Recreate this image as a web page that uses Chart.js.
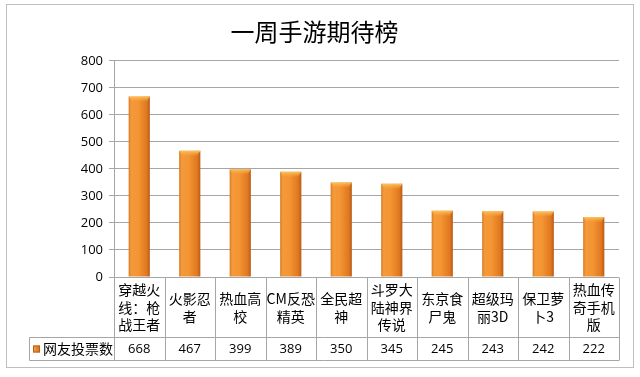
<!DOCTYPE html>
<html>
  <head>
    <meta charset="utf-8">
    <title>一周手游期待榜</title>
    <script src="https://cdn.jsdelivr.net/npm/chart.js@4/dist/chart.umd.min.js"></script>
    <style>
      html, body { margin: 0; padding: 0; background: #fff; }
      #wrap { width: 640px; height: 377px; }
    </style>
  </head>
  <body>
    <div id="wrap"><canvas id="canvas"></canvas></div>
    <script>
      // categories, already split the way the table cells wrap them
      const categories = [
        ['穿越火', '线：枪', '战王者'],
        ['火影忍', '者'],
        ['热血高', '校'],
        ['CM反恐', '精英'],
        ['全民超', '神'],
        ['斗罗大', '陆神界', '传说'],
        ['东京食', '尸鬼'],
        ['超级玛', '丽3D'],
        ['保卫萝', '卜3'],
        ['热血传', '奇手机', '版'],
      ];
      const votes = [668, 467, 399, 389, 350, 345, 245, 243, 242, 222];
      const seriesName = '网友投票数';
      const yTicks = [0, 100, 200, 300, 400, 500, 600, 700, 800];

      const cjk = '"Noto Sans CJK SC", sans-serif';
      const num = '"Open Sans", "Liberation Sans", sans-serif';
      const lineColor = '#a6a6a6';

      function barFill(c) {
        const chart = c.chart;
        if (!chart.chartArea) return '#f29433';
        const xs = chart.scales.x;
        const cx = xs.getPixelForValue(c.dataIndex);
        const w = (xs.width / categories.length) * 0.42;
        const g = chart.ctx.createLinearGradient(cx - w / 2, 0, cx + w / 2, 0);
        g.addColorStop(0, '#d77a26');
        g.addColorStop(0.12, '#f49a3a');
        g.addColorStop(0.45, '#f39533');
        g.addColorStop(0.85, '#e0781f');
        g.addColorStop(1, '#b85c18');
        return g;
      }

      // bar caps, data table and outer frame
      const tablePlugin = {
        id: 'dataTable',
        afterDatasetsDraw(chart) {
          const ctx = chart.ctx;
          const meta = chart.getDatasetMeta(0);
          ctx.save();
          meta.data.forEach((bar) => {
            const w = bar.width;
            const g = ctx.createLinearGradient(0, bar.y, 0, bar.y + 6);
            g.addColorStop(0, '#fcc35e');
            g.addColorStop(1, 'rgba(247,160,60,0)');
            ctx.fillStyle = g;
            ctx.beginPath();
            ctx.moveTo(bar.x - w / 2, bar.y);
            ctx.lineTo(bar.x + w / 2, bar.y);
            ctx.lineTo(bar.x + w / 2 - 3, bar.y + 5);
            ctx.lineTo(bar.x - w / 2 + 3, bar.y + 5);
            ctx.closePath();
            ctx.fill();
          });
          ctx.restore();
        },
        afterDraw(chart) {
          const ctx = chart.ctx;
          const xs = chart.scales.x;
          const area = chart.chartArea;
          const colW = xs.width / categories.length;
          const top = Math.round(area.bottom) + 0.5;
          const mid = top + 60;
          const bot = mid + 23;
          const left = area.left;
          const legendLeft = 29.5;

          ctx.save();
          ctx.strokeStyle = lineColor;
          ctx.lineWidth = 1;
          ctx.beginPath();
          ctx.moveTo(left, top); ctx.lineTo(area.right, top);
          ctx.moveTo(legendLeft, mid); ctx.lineTo(area.right, mid);
          ctx.moveTo(legendLeft, bot); ctx.lineTo(area.right, bot);
          ctx.moveTo(legendLeft, mid); ctx.lineTo(legendLeft, bot);
          for (let i = 0; i <= categories.length; i++) {
            const x = Math.round(left + i * colW) + 0.5;
            ctx.moveTo(x, top); ctx.lineTo(x, bot);
          }
          ctx.stroke();

          ctx.fillStyle = '#000';
          ctx.textAlign = 'center';
          ctx.textBaseline = 'middle';
          categories.forEach((lines, i) => {
            const cx = xs.getPixelForValue(i);
            const lh = 17.5;
            const y0 = (top + mid) / 2 - ((lines.length - 1) * lh) / 2;
            ctx.font = '14px ' + cjk;
            lines.forEach((t, k) => ctx.fillText(t, cx, y0 + k * lh));
            ctx.font = '13px ' + num;
            ctx.fillText(String(votes[i]), cx, (mid + bot) / 2);
          });

          // legend key in the table
          const ky = (mid + bot) / 2;
          const kg = ctx.createLinearGradient(33, 0, 40, 0);
          kg.addColorStop(0, '#f7a642');
          kg.addColorStop(1, '#d36f1e');
          ctx.fillStyle = kg;
          ctx.fillRect(33, ky - 3.5, 7, 7);
          ctx.strokeStyle = '#b8601a';
          ctx.strokeRect(33.5, ky - 3, 6, 6);
          ctx.fillStyle = '#000';
          ctx.textAlign = 'left';
          ctx.font = '14px ' + cjk;
          ctx.fillText(seriesName, 43, ky);

          // outer frame
          ctx.strokeStyle = '#bfbfbf';
          ctx.strokeRect(6.5, 4.5, 627, 363);
          ctx.restore();
        },
      };

      new Chart(document.getElementById('canvas'), {
        type: 'bar',
        data: {
          labels: categories.map((l) => l.join('')),
          datasets: [{
            label: seriesName,
            data: votes,
            backgroundColor: barFill,
            borderWidth: 0,
            categoryPercentage: 1,
            barPercentage: 0.42,
          }],
        },
        options: {
          responsive: true,
          maintainAspectRatio: false,
          animation: false,
          layout: { padding: { left: 10, right: 21, bottom: 100, top: 0 } },
          plugins: {
            legend: { display: false },
            tooltip: { enabled: false },
            title: {
              display: true,
              text: '一周手游期待榜',
              color: '#000',
              font: { family: cjk, size: 24, weight: 'normal' },
              padding: { top: 17, bottom: 15 },
            },
          },
          scales: {
            x: { display: false },
            y: {
              min: 0,
              max: 800,
              afterFit(scale) { scale.width = 104; },
              afterBuildTicks(scale) { scale.ticks = yTicks.map((v) => ({ value: v })); },
              ticks: { color: '#000', font: { family: num, size: 13 }, padding: 6 },
              grid: { color: lineColor, tickLength: 5, drawTicks: true },
              border: { color: lineColor },
            },
          },
        },
        plugins: [tablePlugin],
      });
    </script>
  </body>
</html>
